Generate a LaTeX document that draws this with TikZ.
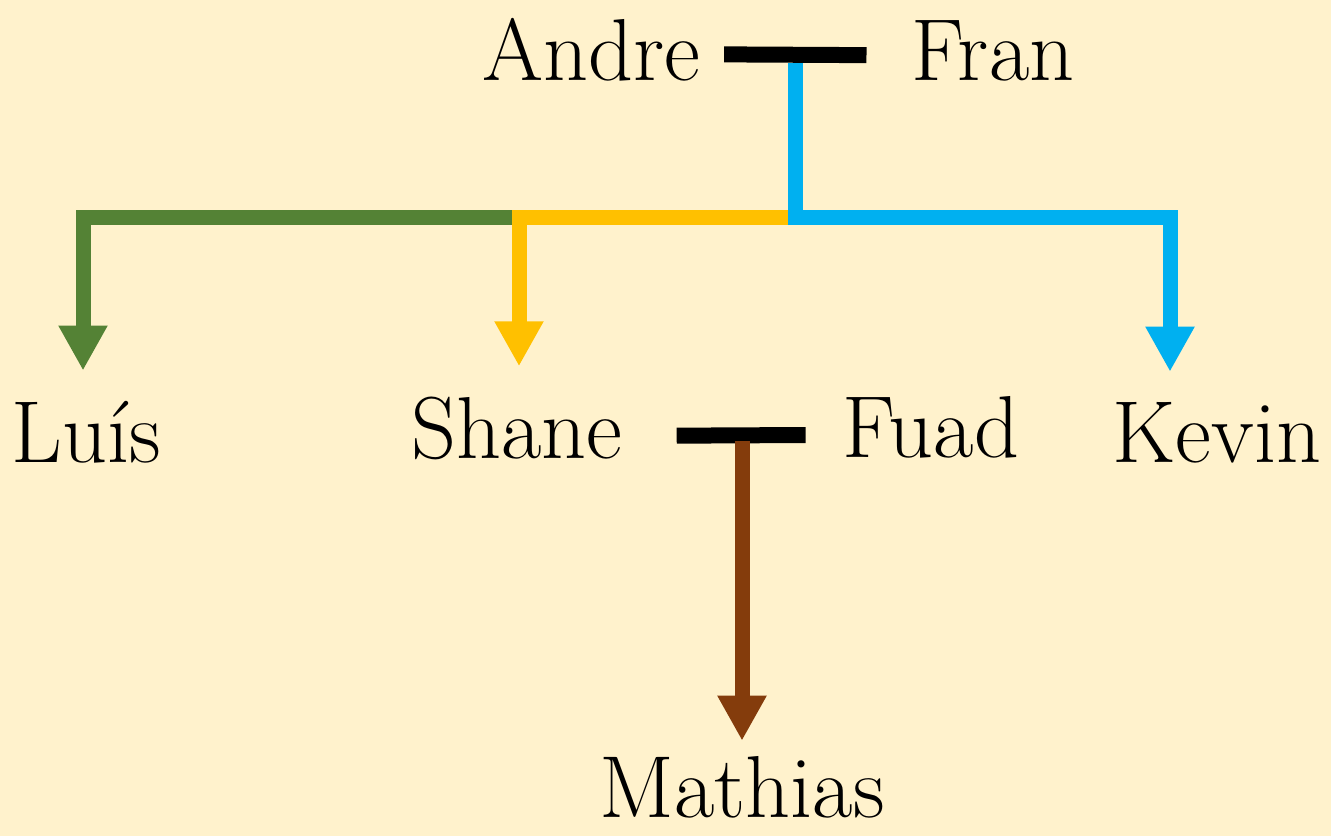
\documentclass[tikz,border=0pt]{standalone}
\usetikzlibrary{
	arrows.meta,
	positioning
}
\definecolor{paper}{HTML}{FFF2CC}
\definecolor{leafgreen}{HTML}{548235}
\definecolor{gold}{HTML}{FFC000}
\definecolor{sky}{HTML}{00B0F0}
\definecolor{rust}{HTML}{843C0C}
\tikzset{
%Define standard arrow tip
>={Triangle[width=46pt,length=45pt]},
%Define style for names
person/.style={
	anchor=base,
	inner sep=0pt,
	font=\fontsize{88}{96}\selectfont},
%Define style for couple bars
bond/.style={
	line width=16pt,
	draw=black},
% Define arrow style
kin/.style={
	->,
	line width=15pt,
	shorten >=30pt}
}

\begin{document}
\begin{tikzpicture}[x=1pt,y=-1pt]
				\fill[paper] (0,0) rectangle (1331,836);
				\node[person] (andre) at (591,80) {Andre};
				\node[person] (fran) at (993,80) {Fran};
				\node[person] (luis) at (86,462) {Luís};
				\node[person] (shane) at (517,458) {Shane};
				\node[person] (fuad) at (931,457) {Fuad};
				\node[person] (kevin) at (1217,462) {Kevin};
				\node[person] (mathias) at (742,817) {Mathias};
				\coordinate (andrefran) at (795,63);
				\coordinate (split) at (795,217);
				\coordinate (shanefuad) at (742,441);
				% couples
				\draw[bond, shorten <=24pt, shorten >=45pt] ([yshift=-5pt]andre.east) -- ([yshift=-5pt]fran.west);
				\draw[bond, shorten <=54pt, shorten >=37pt] ([yshift=-8pt]shane.east) -- ([yshift=-8pt]fuad.west);
				% children
				\draw[kin, leafgreen] (split) -| ([xshift=-3pt]luis.north);
				\draw[kin, gold] (split) -| ([xshift=2pt]shane.north);
				\draw[kin, sky] (andrefran) -- (split) -| ([xshift=-47pt]kevin.north);
				\draw[kin, rust, shorten >=15pt] (shanefuad) -- (mathias.north);
			\end{tikzpicture}
\end{document}
